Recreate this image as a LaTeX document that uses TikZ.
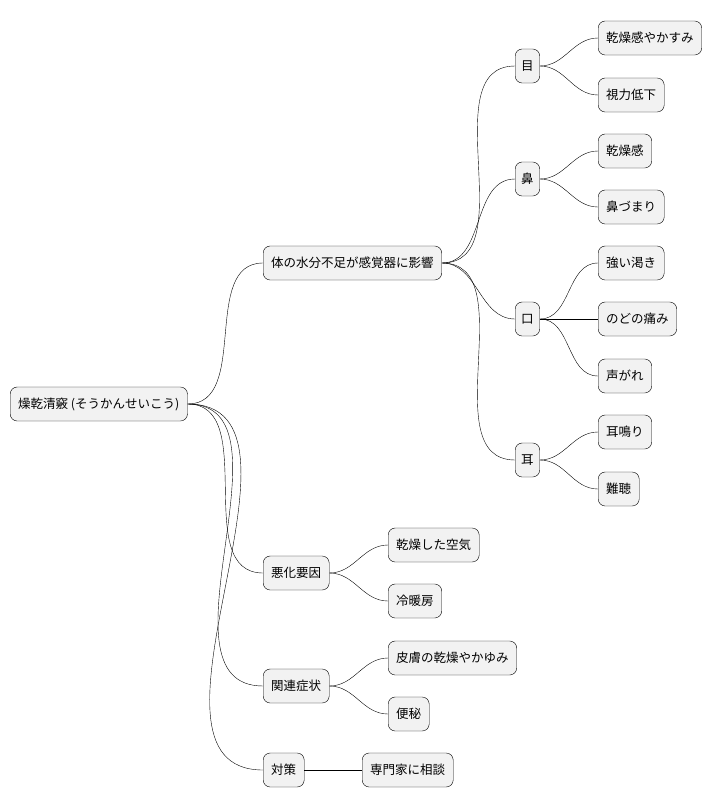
\documentclass[tikz,border=0pt]{standalone}
\usepackage{fontspec}
\newfontfamily\jpfont{Noto Sans CJK JP}
\begin{document}
\begin{tikzpicture}[
        x=1pt, y=-1pt,
        box/.style={rectangle, rounded corners=7pt, draw, fill=gray!10, anchor=west,
            font=\jpfont\fontsize{12.5}{14}\selectfont, minimum height=34pt, inner xsep=8pt},
        link/.style={thin, out=0, in=180}
    ]
    \useasboundingbox (0,0) rectangle (728,809);

    % Root and first level
    \node (root) [box] at (10,404) {燥乾清竅 (そうかんせいこう)};
    \node (water) [box] at (263,263) {体の水分不足が感覚器に影響};
    \node (worse) [box] at (263,573) {悪化要因};
    \node (rel) [box] at (263,686) {関連症状};
    \node (care) [box] at (263,770) {対策};

    % Organs
    \node (eye) [box, inner xsep=6pt] at (515,66) {目};
    \node (nose) [box, inner xsep=6pt] at (515,179) {鼻};
    \node (mouth) [box, inner xsep=6pt] at (515,319) {口};
    \node (ear) [box, inner xsep=6pt] at (515,460) {耳};

    % Leaves
    \node (eyeA) [box] at (598,38) {乾燥感やかすみ};
    \node (eyeB) [box] at (598,95) {視力低下};
    \node (noseA) [box] at (598,151) {乾燥感};
    \node (noseB) [box] at (598,207) {鼻づまり};
    \node (mouthA) [box] at (598,263) {強い渇き};
    \node (mouthB) [box] at (598,319) {のどの痛み};
    \node (mouthC) [box] at (598,376) {声がれ};
    \node (earA) [box] at (598,432) {耳鳴り};
    \node (earB) [box] at (598,489) {難聴};
    \node (worseA) [box] at (388,545) {乾燥した空気};
    \node (worseB) [box] at (388,601) {冷暖房};
    \node (relA) [box] at (388,658) {皮膚の乾燥やかゆみ};
    \node (relB) [box] at (388,714) {便秘};
    \node (careA) [box] at (362,770) {専門家に相談};

    % Connectors
    \foreach \a/\b in {root/water, root/worse, root/rel, root/care,
            water/eye, water/nose, water/mouth, water/ear,
            eye/eyeA, eye/eyeB, nose/noseA, nose/noseB,
            mouth/mouthA, mouth/mouthC, ear/earA, ear/earB,
            worse/worseA, worse/worseB, rel/relA, rel/relB}
        \draw [link] (\a.east) to (\b.west);
    \draw [thin] (mouth) -- (mouthB);
    \draw [thin] (care) -- (careA);
\end{tikzpicture}
\end{document}
